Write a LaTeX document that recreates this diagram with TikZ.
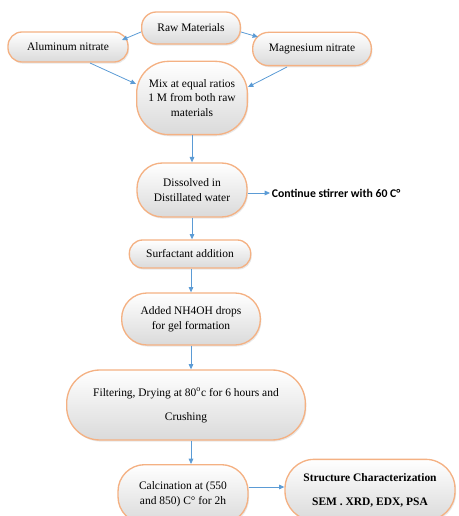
\documentclass[tikz,border=0pt]{standalone}
\usepackage{fontspec}
\setmainfont{Liberation Serif}
\newfontfamily\calibri{Carlito}
\usetikzlibrary{arrows.meta,shadows}

\definecolor{boxline}{RGB}{244,177,131}
\definecolor{boxshade}{RGB}{218,218,218}
\definecolor{flowblue}{RGB}{91,155,213}

\tikzset{every picture/.style={line width=0.75pt}}
\tikzset{
  stepbox/.style={draw=boxline, line width=1pt, top color=white, bottom color=boxshade,
    align=center, inner sep=2pt, font=\fontsize{8.6}{11}\selectfont,
    drop shadow={opacity=0.18, shadow xshift=0.8pt, shadow yshift=-1.2pt}},
  flow/.style={draw=flowblue, line width=0.6pt, -{Triangle[length=4pt,width=3.5pt]}}
}

\begin{document}
\begin{tikzpicture}[x=0.75pt,y=0.75pt,yscale=-1,xscale=1]
	\useasboundingbox (0,0) rectangle (458,516);
	\clip (0,0) rectangle (458,516);

	% Boxes
	\node [stepbox, minimum width=74pt, minimum height=24pt, rounded corners=11pt] (raw) at (191,28) {Raw Materials};
	\node [stepbox, minimum width=90pt, minimum height=22.5pt, rounded corners=10.5pt] (alu) at (68,47) {Aluminum nitrate};
	\node [stepbox, minimum width=89pt, minimum height=25pt, rounded corners=12pt] (mag) at (312,49) {Magnesium nitrate};
	\node [stepbox, minimum width=83pt, minimum height=55pt, rounded corners=24pt] (mix) at (192,98) {Mix at equal ratios\\1 M from both raw\\materials};
	\node [stepbox, minimum width=82.5pt, minimum height=40.5pt, rounded corners=19pt] (dis) at (192,190) {Dissolved in\\Distillated water};
	\node [stepbox, minimum width=91pt, minimum height=21pt, rounded corners=10pt] (surf) at (190,254) {Surfactant addition};
	\node [stepbox, minimum width=104pt, minimum height=39pt, rounded corners=19pt] (nh) at (191,319) {Added NH4OH drops\\for gel formation};
	\node [stepbox, minimum width=179pt, minimum height=52.5pt, rounded corners=25pt] (filt) at (186,405) {Filtering, Drying at 80\textsuperscript{o}c for 6 hours and\\[7pt]Crushing};
	\node [stepbox, minimum width=97.5pt, minimum height=44pt, rounded corners=20pt] (calc) at (183,494) {Calcination at (550\\and 850) C° for 2h};
	\node [stepbox, minimum width=127.5pt, minimum height=46pt, rounded corners=22pt, font=\fontsize{8.6}{11}\selectfont\bfseries] (char) at (370,490) {Structure Characterization\\[7pt]SEM . XRD, EDX, PSA};

	% Text Node
	\node [anchor=west, inner sep=1pt, font=\calibri\bfseries\fontsize{8.8}{10}\selectfont] (stir) at (270,193) {Continue stirrer with 60 C°};

	% Connectors
	\draw [flow] (raw.west) ++(0,4) coordinate (r1) -- (122,40) coordinate (a1);
	\draw [flow] (raw.east) ++(0,4) coordinate (r2) -- (258,37) coordinate (m1);
	\draw [flow] (90,63) coordinate (a2) -- (mix.west |- 0,84);
	\draw [flow] (287,67) coordinate (m2) -- (mix.east |- 0,87);
	\draw [flow] (mix.south) -- (dis.north);
	\draw [flow] (dis.east |- stir.west) -- (stir.west);
	\draw [flow] (dis.south) -- (dis.south |- surf.north);
	\draw [flow] (surf.south -| nh.north) -- (nh.north);
	\draw [flow] (nh.south) -- (nh.south |- filt.north);
	\draw [flow] (filt.south -| 191,0) -- (191,0 |- calc.north);
	\draw [flow] (calc.east |- 0,487) -- (char.west |- 0,487);

\end{tikzpicture}
\end{document}
